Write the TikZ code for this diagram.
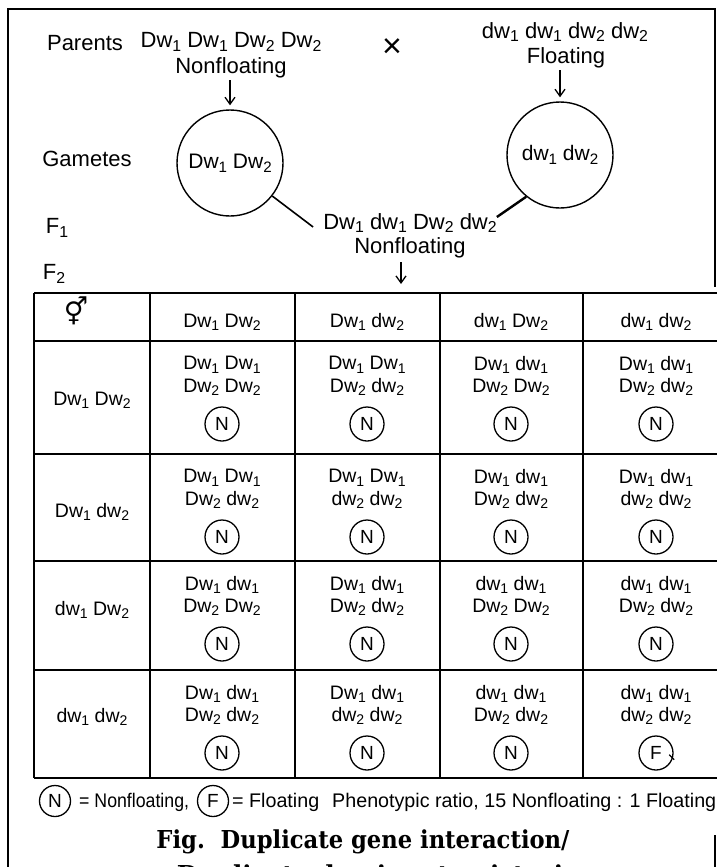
\documentclass[tikz,border=0pt]{standalone}
\usepackage{fontspec}
\setmainfont{Liberation Sans}
\newfontfamily\symfont{DejaVu Sans}
\newfontfamily\capfont{DejaVu Serif}
\usetikzlibrary{arrows.meta}
\newcommand\sbs[1]{\raisebox{-0.32ex}{\scalebox{0.72}{#1}}}
\newcommand\gn[2]{#1w\sbs{#2}}
\begin{document}
\begin{tikzpicture}[x=1pt,y=-1pt,
  lbl/.style={font=\fontsize{22}{24}\selectfont, inner sep=0pt},
  cell/.style={font=\fontsize{19.5}{22.5}\selectfont, inner sep=0pt, align=center},
  legt/.style={font=\fontsize{19.7}{22}\selectfont, inner sep=0pt, anchor=west},
  gamete/.style={draw, circle, minimum size=106pt, line width=1.4pt, inner sep=0pt, font=\fontsize{21}{24}\selectfont},
  phen/.style={draw, circle, minimum size=34pt, line width=1.3pt, inner sep=0pt, font=\fontsize{19}{20}\selectfont},
  legc/.style={draw, circle, minimum size=31pt, line width=1.3pt, inner sep=0pt, font=\fontsize{19}{20}\selectfont},
  arr/.style={-{Straight Barb[length=7pt,width=10pt]}, line width=1.3pt},
  gridline/.style={line width=1.6pt},
  framel/.style={line width=2pt},
  capt/.style={font=\capfont\bfseries\fontsize{24.7}{28}\selectfont, inner sep=0pt, anchor=base}]
\useasboundingbox (0,0) rectangle (717,867);
\clip (0,0) rectangle (717,867);
% frame
\draw[framel] (8,867) -- (8,9) -- (715,9) -- (715,287);
\draw[framel] (715,835) -- (715,867);
% top part
\node[lbl] (par) at (85,43) {Parents};
\node[lbl] (p1) at (231,42) {\gn{D}{1} \gn{D}{1} \gn{D}{2} \gn{D}{2}};
\node[lbl] (p1t) at (231,68) {Nonfloating};
\node[font=\fontsize{34}{34}\selectfont, inner sep=0pt] (cross) at (392,48) {×};
\node[lbl] (p2) at (565,32) {\gn{d}{1} \gn{d}{1} \gn{d}{2} \gn{d}{2}};
\node[lbl] (p2t) at (566,58) {Floating};
\node[lbl] (gam) at (87,159) {Gametes};
\node[gamete] (g1) at (230,163) {\gn{D}{1} \gn{D}{2}};
\node[gamete] (g2) at (560,155) {\gn{d}{1} \gn{d}{2}};
\node[lbl] (f1) at (57,228) {F\sbs{1}};
\node[lbl] (f2) at (54,274) {F\sbs{2}};
\node[lbl] (h1) at (410,223) {\gn{D}{1} \gn{d}{1} \gn{D}{2} \gn{d}{2}};
\node[lbl] (h1t) at (410,248) {Nonfloating};
\coordinate (f2tip) at (401,284);
\draw[arr] ([yshift=-2pt]p1t.south -| g1.north) -- ([yshift=4pt]g1.north);
\draw[arr] ([yshift=-2pt]p2t.south -| g2.north) -- ([yshift=4pt]g2.north);
\draw[line width=1.6pt] (g1.-38) -- ([xshift=-10pt,yshift=-4pt]h1.west);
\draw[line width=2.4pt] (g2.231) -- ([yshift=6pt]h1.east);
\draw[arr] ([yshift=-4pt]h1t.south -| f2tip) -- (f2tip);
% table grid
\foreach \yy in {293,341,454,561,670,778} \draw[gridline] (34,\yy) -- (717,\yy);
\foreach \xx in {34,150,295,440,583} \draw[gridline] (\xx,293) -- (\xx,778);
% header
\node[font=\symfont\bfseries\fontsize{27}{28}\selectfont, inner sep=0pt] (sex) at (76,311) {⚥};
\node[cell] (h_1) at (222,322) {\gn{D}{1} \gn{D}{2}};
\node[cell] (h_2) at (367,322) {\gn{D}{1} \gn{d}{2}};
\node[cell] (h_3) at (511,322) {\gn{d}{1} \gn{D}{2}};
\node[cell] (h_4) at (656,322) {\gn{d}{1} \gn{d}{2}};
% row labels
\node[cell] (r_1) at (92,400) {\gn{D}{1} \gn{D}{2}};
\node[cell] (r_2) at (92,512) {\gn{D}{1} \gn{d}{2}};
\node[cell] (r_3) at (92,610) {\gn{d}{1} \gn{D}{2}};
\node[cell] (r_4) at (92,717) {\gn{d}{1} \gn{d}{2}};
% row 1 (T=341)
\node[cell] (c11) at (222,376) {\gn{D}{1} \gn{D}{1}\\ \gn{D}{2} \gn{D}{2}};
\node[cell] (c12) at (367,376) {\gn{D}{1} \gn{D}{1}\\ \gn{D}{2} \gn{d}{2}};
\node[cell] (c13) at (511,376) {\gn{D}{1} \gn{d}{1}\\ \gn{D}{2} \gn{D}{2}};
\node[cell] (c14) at (656,376) {\gn{D}{1} \gn{d}{1}\\ \gn{D}{2} \gn{d}{2}};
\node[phen] (n11) at (222,424) {N};
\node[phen] (n12) at (367,424) {N};
\node[phen] (n13) at (511,424) {N};
\node[phen] (n14) at (656,424) {N};
% row 2 (T=454)
\node[cell] (c21) at (222,489) {\gn{D}{1} \gn{D}{1}\\ \gn{D}{2} \gn{d}{2}};
\node[cell] (c22) at (367,489) {\gn{D}{1} \gn{D}{1}\\ \gn{d}{2} \gn{d}{2}};
\node[cell] (c23) at (511,489) {\gn{D}{1} \gn{d}{1}\\ \gn{D}{2} \gn{d}{2}};
\node[cell] (c24) at (656,489) {\gn{D}{1} \gn{d}{1}\\ \gn{d}{2} \gn{d}{2}};
\node[phen] (n21) at (222,537) {N};
\node[phen] (n22) at (367,537) {N};
\node[phen] (n23) at (511,537) {N};
\node[phen] (n24) at (656,537) {N};
% row 3 (T=561)
\node[cell] (c31) at (222,596) {\gn{D}{1} \gn{d}{1}\\ \gn{D}{2} \gn{D}{2}};
\node[cell] (c32) at (367,596) {\gn{D}{1} \gn{d}{1}\\ \gn{D}{2} \gn{d}{2}};
\node[cell] (c33) at (511,596) {\gn{d}{1} \gn{d}{1}\\ \gn{D}{2} \gn{D}{2}};
\node[cell] (c34) at (656,596) {\gn{d}{1} \gn{d}{1}\\ \gn{D}{2} \gn{d}{2}};
\node[phen] (n31) at (222,644) {N};
\node[phen] (n32) at (367,644) {N};
\node[phen] (n33) at (511,644) {N};
\node[phen] (n34) at (656,644) {N};
% row 4 (T=670)
\node[cell] (c41) at (222,705) {\gn{D}{1} \gn{d}{1}\\ \gn{D}{2} \gn{d}{2}};
\node[cell] (c42) at (367,705) {\gn{D}{1} \gn{d}{1}\\ \gn{d}{2} \gn{d}{2}};
\node[cell] (c43) at (511,705) {\gn{d}{1} \gn{d}{1}\\ \gn{D}{2} \gn{d}{2}};
\node[cell] (c44) at (656,705) {\gn{d}{1} \gn{d}{1}\\ \gn{d}{2} \gn{d}{2}};
\node[phen] (n41) at (222,753) {N};
\node[phen] (n42) at (367,753) {N};
\node[phen] (n43) at (511,753) {N};
\node[phen] (n44) at (656,753) {F};
\draw[line width=1.2pt] ([shift={(-4pt,2pt)}]n44.-12) -- ([shift={(1pt,-3pt)}]n44.-12);
% legend
\node[legc] (lN) at (55,801) {N};
\node[legt] (lNt) at (79,802) {\scalebox{0.9}[1]{= Nonfloating,}};
\node[legc] (lF) at (213,801) {F};
\node[legt] (lFt) at (232,802) {= Floating};
\node[legt] (ratio) at (332,802) {Phenotypic ratio, 15 Nonfloating : 1 Floating};
% caption
\node[capt] (cap1) at (363,848) {\resizebox{413pt}{\height}{Fig.\ \ Duplicate gene interaction/}};
\node[capt] (cap2) at (377,883) {\resizebox{400pt}{\height}{Duplicate dominant epistasis}};
\end{tikzpicture}
\end{document}
